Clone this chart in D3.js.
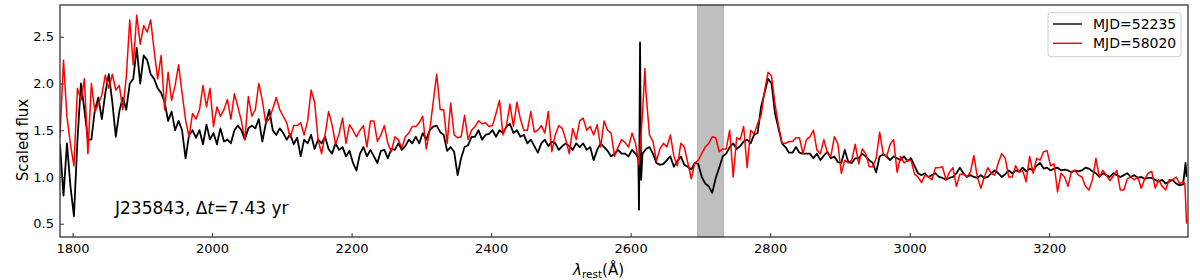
<!DOCTYPE html>
<html>
<head>
<meta charset="utf-8">
<script src="https://cdn.jsdelivr.net/npm/d3@7"></script>
<style>
  body {margin: 0; background: #fff;}
  text {font-family: "DejaVu Sans", sans-serif;}
</style>
</head>
<body>
<script>
// rest-frame wavelength grid (Angstrom) used by both epochs
var waveStart = 1782;
var waveStep = 5;

// scaled flux, MJD=52235 (one value per grid step)
var fluxBlack = [
  1.35, 0.8, 1.36, 0.9, 0.58, 1.39, 2.0, 1.72, 1.4, 1.4,
  1.72, 1.85, 1.62, 1.9, 2.1, 1.8, 1.43, 1.7, 1.85, 1.72,
  2.0, 2.05, 2.38, 2.0, 2.3, 2.25, 2.1, 2.05, 1.95, 1.9,
  1.8, 1.6, 1.7, 1.5, 1.6, 1.5, 1.2, 1.45, 1.5, 1.42,
  1.5, 1.35, 1.56, 1.4, 1.47, 1.35, 1.52, 1.38, 1.4, 1.36,
  1.5, 1.55, 1.5, 1.4, 1.52,
  1.55, 1.52, 1.62, 1.38, 1.57, 1.72, 1.5, 1.45, 1.52, 1.47,
  1.4, 1.46, 1.35, 1.42, 1.22, 1.4, 1.36, 1.45, 1.3, 1.4,
  1.36, 1.43, 1.3, 1.25, 1.36, 1.29, 1.32, 1.22, 1.28, 1.15,
  1.07, 1.25, 1.32, 1.22, 1.29, 1.22, 1.15, 1.28, 1.29, 1.2,
  1.3, 1.29, 1.36, 1.29, 1.33, 1.4, 1.36, 1.43, 1.36, 1.47,
  1.4, 1.5, 1.54, 1.55,
  1.48, 1.45, 1.28, 1.32, 1.27, 1.02, 1.2, 1.32, 1.34, 1.43,
  1.43, 1.5, 1.4, 1.45, 1.46, 1.5, 1.43, 1.5, 1.47, 1.54,
  1.57, 1.47, 1.5, 1.43, 1.45, 1.36, 1.4, 1.33, 1.26, 1.36,
  1.4, 1.33, 1.38, 1.36, 1.29, 1.33, 1.36, 1.33, 1.29, 1.36,
  1.32, 1.36, 1.29, 1.32, 1.18, 1.29, 1.36, 1.32, 1.28, 1.22,
  1.25, 1.29, 1.25,
  1.25, 1.22, 1.29, 1.25, 0.65, 1.25, 1.3, 1.32, 1.25, 1.15,
  1.13, 1.14, 1.18, 1.22, 1.11, 1.17, 1.22, 1.13, 1.11, 1.08,
  1.15, 1.14, 1.0, 0.93, 0.9, 0.83, 0.99, 1.1, 1.22, 1.25,
  1.32, 1.36, 1.3, 1.33, 1.38, 1.4, 1.36, 1.45, 1.47, 1.75,
  1.9, 2.05, 2.0, 1.68, 1.52, 1.36, 1.32, 1.26, 1.26, 1.32,
  1.26, 1.25, 1.25,
  1.25, 1.2, 1.25, 1.18, 1.23, 1.27, 1.2, 1.22, 1.16, 1.15,
  1.29, 1.16, 1.15, 1.2, 1.2, 1.25, 1.22, 1.18, 1.15, 1.05,
  1.22, 1.24, 1.22, 1.18, 1.22, 1.2, 1.18, 1.22, 1.17, 1.2,
  1.12, 1.04, 1.02, 1.04, 1.0, 1.02, 1.04, 1.0, 0.99, 0.97,
  0.99, 1.0, 1.04, 1.1, 1.04, 1.0, 1.02, 1.0, 0.99, 1.02,
  0.99, 1.0, 1.04, 1.07,
  1.04, 1.0, 1.03, 1.07, 1.04, 1.07, 1.06, 1.1, 1.06, 1.09,
  1.07, 1.12, 1.15, 1.09, 1.1, 1.07, 1.09, 1.1, 1.07, 1.08,
  1.07, 1.05, 1.07, 1.06, 1.07, 1.1, 1.09, 1.06, 1.04, 1.0,
  1.04, 1.02, 1.0, 1.04, 1.02, 1.0, 1.02, 1.04, 1.0, 1.02,
  0.99, 1.0, 0.98, 0.99, 0.99, 0.97, 0.95, 0.97, 0.93, 0.95,
  0.97, 0.93, 0.91, 0.92, 1.0
];

// scaled flux, MJD=58020
var fluxRed = [
  1.43, 2.25, 1.64, 1.35, 1.12, 1.95, 1.82, 2.05, 1.25, 2.0,
  1.7, 1.78, 1.88, 2.09, 1.95, 2.1, 1.93, 1.98, 1.72, 2.07,
  2.68, 2.2, 2.73, 2.42, 2.62, 2.55, 2.68, 2.35, 2.05, 2.3,
  1.72, 2.12, 1.82, 1.98, 2.2, 1.9, 1.61, 1.43, 1.68, 1.62,
  1.72, 1.98, 1.75, 1.95, 1.54, 1.75, 1.65, 1.72, 1.83, 1.62,
  1.89, 1.75, 1.6, 1.4, 1.86,
  1.65, 1.72, 2.0, 1.82, 1.58, 1.62, 1.73, 1.85, 1.72, 1.65,
  1.58, 1.42, 1.55, 1.55, 1.58, 1.45, 1.6, 1.93, 1.8, 1.4,
  1.25, 1.45, 1.7, 1.56, 1.35, 1.46, 1.63, 1.36, 1.56, 1.5,
  1.43, 1.5, 1.55, 1.32, 1.6, 1.6, 1.38, 1.45, 1.55, 1.36,
  1.27, 1.43, 1.4, 1.31, 1.43, 1.47, 1.54, 1.54, 1.58, 1.65,
  1.3, 1.5, 1.8, 2.1,
  1.72, 1.72, 1.36, 1.79, 1.45, 1.42, 1.43, 1.66, 1.4, 1.5,
  1.54, 1.6, 1.57, 1.58, 1.54, 1.55, 1.68, 1.82, 1.45, 1.55,
  1.78, 1.54, 1.8, 1.62, 1.5, 1.5, 1.7, 1.48, 1.5, 1.55,
  1.47, 1.7, 1.27, 1.45, 1.55, 1.52, 1.4, 1.25, 1.52, 1.4,
  1.6, 1.63, 1.5, 1.54, 1.45, 1.56, 1.32, 1.6, 1.5, 1.47,
  1.22, 1.32, 1.4,
  1.37, 1.32, 1.47, 1.36, 1.13, 1.68, 1.9, 1.45, 1.38, 1.17,
  1.3, 1.36, 1.32, 1.45, 1.22, 1.12, 1.36, 1.32, 1.15, 0.98,
  1.15, 1.18, 1.25, 1.32, 1.36, 1.43, 1.42, 1.27, 1.3, 1.3,
  1.5, 1.0, 1.42, 1.4, 1.54, 1.1, 1.5, 1.46, 1.57, 1.66,
  1.92, 2.12, 2.08, 1.78, 1.55, 1.36, 1.36, 1.38, 1.38, 1.42,
  1.42, 1.25, 1.4,
  1.43, 1.5, 1.29, 1.25, 1.4, 1.26, 1.22, 1.43, 1.36, 1.04,
  1.18, 1.15, 1.18, 1.35, 1.14, 1.3, 1.25, 1.11, 1.11, 1.2,
  1.48, 1.25, 1.22, 1.35, 1.4, 1.05, 1.22, 1.15, 1.18, 1.18,
  1.03, 1.0, 0.94, 1.02, 1.0, 0.97, 1.1, 1.1, 1.11, 0.97,
  1.05, 1.1, 0.9, 1.03, 1.03, 1.0, 1.05, 1.23, 1.0, 0.88,
  1.0, 1.1, 1.04, 1.02,
  1.15, 1.25, 1.2, 1.0, 1.0, 1.12, 1.05, 1.07, 0.95, 1.22,
  1.04, 1.2, 1.18, 1.27, 1.28, 1.12, 1.14, 0.84, 1.04, 1.0,
  0.9, 1.06, 1.07, 1.02, 1.0, 0.9, 0.86, 0.97, 1.2, 1.0,
  1.07, 1.02, 0.96, 1.01, 1.07, 0.86, 0.86, 0.98, 1.0, 0.97,
  1.0, 0.88, 0.98, 1.04, 1.06, 0.88, 0.97, 0.9, 0.86, 0.97,
  0.97, 1.0, 0.93, 0.95, 0.5
];

// narrow features that fall between grid steps [wavelength, flux]
var extraBlack = [[2611, 1.2], [2613.5, 2.44], [2615, 0.97], [3395.5, 1.15]];
var extraRed = [[2620.5, 2.16], [3394.5, 0.93]];

var seriesNames = ["MJD=52235", "MJD=58020"];
var seriesColors = ["#000000", "#ff0000"];
var seriesWidths = [1.8, 1.5];
var xTicks = [1800, 2000, 2200, 2400, 2600, 2800, 3000, 3200];
var yTicks = [0.5, 1.0, 1.5, 2.0, 2.5];
var shadedBand = [2696, 2733];

var width = 1200, height = 280;
var plot = {left: 60, right: 1188, top: 5, bottom: 237};

var svg = d3.select("body").append("svg")
  .attr("width", width)
  .attr("height", height);

var x = d3.scaleLinear().domain([1782, 3399]).range([plot.left, plot.right]);
var y = d3.scaleLinear().domain([0.358, 2.84]).range([plot.bottom, plot.top]);

function toPoints(flux, extra) {
  var pts = flux.map(function (f, i) { return [waveStart + i * waveStep, f]; });
  return pts.concat(extra).sort(function (a, b) { return a[0] - b[0]; });
}
var series = [toPoints(fluxBlack, extraBlack), toPoints(fluxRed, extraRed)];

svg.append("clipPath").attr("id", "clip")
  .append("rect")
  .attr("x", plot.left).attr("y", plot.top)
  .attr("width", plot.right - plot.left).attr("height", plot.bottom - plot.top);

// shaded region
svg.append("rect")
  .attr("x", x(shadedBand[0]))
  .attr("y", plot.top)
  .attr("width", x(shadedBand[1]) - x(shadedBand[0]))
  .attr("height", plot.bottom - plot.top)
  .attr("fill", "#808080").attr("fill-opacity", 0.5)
  .attr("stroke", "#808080").attr("stroke-opacity", 0.5).attr("stroke-width", 1);

var line = d3.line()
  .x(function (d) { return x(d[0]); })
  .y(function (d) { return y(d[1]); });

svg.append("g").attr("clip-path", "url(#clip)")
  .selectAll("path").data(series).enter().append("path")
  .attr("d", line)
  .attr("fill", "none")
  .attr("stroke", function (d, i) { return seriesColors[i]; })
  .attr("stroke-width", function (d, i) { return seriesWidths[i]; })
  .attr("stroke-linejoin", "round");

// axes, ticks pointing inward
var xAxis = svg.append("g")
  .attr("transform", "translate(0," + plot.bottom + ")")
  .call(d3.axisBottom(x).tickValues(xTicks).tickSizeInner(-4).tickSizeOuter(0)
    .tickPadding(7).tickFormat(d3.format("d")));
var yAxis = svg.append("g")
  .attr("transform", "translate(" + plot.left + ",0)")
  .call(d3.axisLeft(y).tickValues(yTicks).tickSizeInner(-4).tickSizeOuter(0)
    .tickPadding(6).tickFormat(d3.format(".1f")));

[xAxis, yAxis].forEach(function (g) {
  g.select(".domain").remove();
  g.selectAll(".tick line").attr("stroke", "#333").attr("stroke-width", 1);
  g.selectAll(".tick text").attr("fill", "#000")
    .attr("font-family", "DejaVu Sans").attr("font-size", "13px");
});

// frame
svg.append("rect")
  .attr("x", plot.left).attr("y", plot.top)
  .attr("width", plot.right - plot.left).attr("height", plot.bottom - plot.top)
  .attr("fill", "none").attr("stroke", "#333").attr("stroke-width", 1.3);

// axis labels
svg.append("text")
  .attr("transform", "translate(28,140) rotate(-90)")
  .attr("text-anchor", "middle")
  .attr("font-size", "15px")
  .text("Scaled flux");

var xl = svg.append("text")
  .attr("x", 573).attr("y", 274.5)
  .attr("font-size", "15px");
xl.append("tspan").attr("font-style", "italic").text("λ");
xl.append("tspan").attr("font-size", "10.5px").attr("dy", 3).text("rest");
xl.append("tspan").attr("dy", -3).text("(Å)");

// annotation
var ann = svg.append("text")
  .attr("x", 115).attr("y", 214)
  .attr("font-size", "17px");
ann.append("tspan").text("J235843, Δ");
ann.append("tspan").attr("font-style", "italic").text("t");
ann.append("tspan").text("=7.43 yr");

// legend
var legend = svg.append("g");
legend.append("rect")
  .attr("x", 1048).attr("y", 12.7).attr("width", 133).attr("height", 44)
  .attr("rx", 3)
  .attr("fill", "#fff").attr("fill-opacity", 0.8)
  .attr("stroke", "#d0d0d0").attr("stroke-width", 1);
seriesNames.forEach(function (name, i) {
  var ly = 24 + i * 19.3;
  legend.append("line")
    .attr("x1", 1053).attr("x2", 1082).attr("y1", ly).attr("y2", ly)
    .attr("stroke", seriesColors[i]).attr("stroke-width", 1.4);
  legend.append("text")
    .attr("x", 1093).attr("y", ly + 5)
    .attr("font-size", "14px")
    .text(name);
});
</script>
</body>
</html>
